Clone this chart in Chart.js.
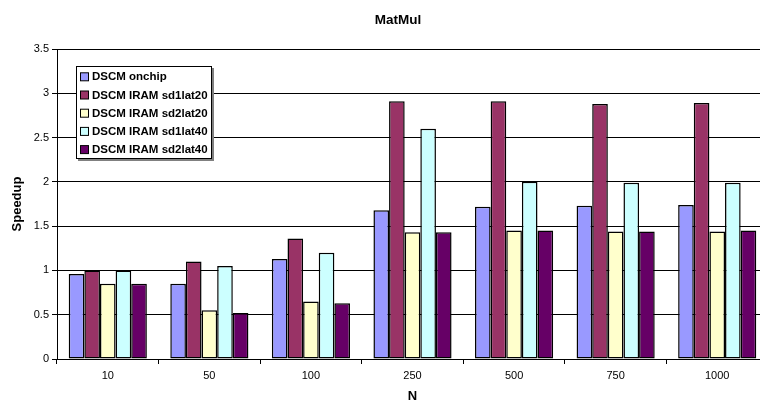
<!DOCTYPE html>
<html>
<head>
<meta charset="utf-8">
<script src="https://cdn.jsdelivr.net/npm/chart.js@4/dist/chart.umd.min.js"></script>
<style>
  html, body { margin: 0; padding: 0; background: #fff; overflow: hidden; }
  #wrap { width: 796px; height: 405px; }
</style>
</head>
<body>
<div id="wrap"><canvas id="chart" width="796" height="405"></canvas></div>
<script>
// N values on the x axis
const categories = ['10', '50', '100', '250', '500', '750', '1000'];

// speedup per configuration
const onchip   = [0.96, 0.85, 1.13, 1.68, 1.72, 1.73, 1.74];
const sd1lat20 = [1.00, 1.10, 1.36, 2.91, 2.91, 2.88, 2.89];
const sd2lat20 = [0.85, 0.55, 0.65, 1.43, 1.45, 1.44, 1.44];
const sd1lat40 = [1.00, 1.05, 1.20, 2.60, 2.00, 1.99, 1.99];
const sd2lat40 = [0.85, 0.52, 0.63, 1.43, 1.45, 1.44, 1.45];

const seriesNames = ['DSCM onchip', 'DSCM IRAM sd1lat20', 'DSCM IRAM sd2lat20', 'DSCM IRAM sd1lat40', 'DSCM IRAM sd2lat40'];
const seriesColors = ['#9999FF', '#993366', '#FFFFCC', '#CCFFFF', '#660066'];

const FONT = "'Liberation Sans', Arial, sans-serif";

// chart title, centred on the whole canvas
const titlePlugin = {
    id: 'matmulTitle',
    afterDraw(chart) {
        const ctx = chart.ctx;
        ctx.save();
        ctx.font = 'bold 13.5px ' + FONT;
        ctx.fillStyle = '#000';
        ctx.textAlign = 'center';
        ctx.textBaseline = 'middle';
        ctx.fillText('MatMul', chart.width / 2, 20);
        ctx.restore();
    }
};

// boxed legend inside the plot area, with a drop shadow
const boxLegend = {
    id: 'boxLegend',
    afterDraw(chart) {
        const ctx = chart.ctx;
        const area = chart.chartArea;
        const x = area.left + 19;
        const y = area.top + 17;
        const w = 136;
        const h = 93;
        const rowH = 18.2;

        ctx.save();
        // shadow
        ctx.fillStyle = '#808080';
        ctx.fillRect(x + 2, y + 2, w, h);
        // box
        ctx.fillStyle = '#fff';
        ctx.fillRect(x, y, w, h);
        ctx.strokeStyle = '#000';
        ctx.lineWidth = 1;
        ctx.strokeRect(x + 0.5, y + 0.5, w - 1, h - 1);

        ctx.font = 'bold 11.5px ' + FONT;
        ctx.textBaseline = 'middle';
        ctx.textAlign = 'left';
        chart.data.datasets.forEach((ds, i) => {
            const cy = y + 10.3 + i * rowH;
            ctx.fillStyle = ds.backgroundColor;
            ctx.fillRect(x + 4.5, cy - 3.5, 8, 8);
            ctx.strokeStyle = '#000';
            ctx.strokeRect(x + 4.5, cy - 3.5, 8, 8);
            ctx.fillStyle = '#000';
            ctx.fillText(ds.label, x + 16, cy + 1);
        });
        ctx.restore();
    }
};

const allValues = [onchip, sd1lat20, sd2lat20, sd1lat40, sd2lat40];

new Chart(document.getElementById('chart'), {
    type: 'bar',
    data: {
        labels: categories,
        datasets: allValues.map((vals, i) => ({
            label: seriesNames[i],
            data: vals,
            backgroundColor: seriesColors[i],
            borderColor: '#000',
            borderWidth: 1.5,
            borderSkipped: false,
            categoryPercentage: 5 / 6.5,
            barPercentage: 1
        }))
    },
    options: {
        responsive: false,
        animation: false,
        devicePixelRatio: 1,
        layout: { padding: { left: 0, right: 28, top: 49, bottom: 0 } },
        plugins: {
            legend: { display: false },
            title: { display: false },
            tooltip: { enabled: false }
        },
        scales: {
            x: {
                offset: true,
                grid: { offset: true, drawOnChartArea: false, color: '#000', tickLength: 5 },
                border: { color: '#000' },
                ticks: { font: { family: FONT, size: 11 }, color: '#000', padding: 5, maxRotation: 0 },
                title: {
                    display: true,
                    text: 'N',
                    color: '#000',
                    font: { family: FONT, size: 13, weight: 'bold' },
                    padding: { top: 0, bottom: 1 }
                },
                afterFit: (scale) => { scale.height = 46; }
            },
            y: {
                min: 0,
                max: 3.5,
                ticks: {
                    stepSize: 0.5,
                    font: { family: FONT, size: 11 },
                    color: '#000',
                    padding: 3,
                    callback: (value) => String(Number(value))
                },
                grid: { color: '#000', tickLength: 5 },
                border: { color: '#000' },
                title: {
                    display: true,
                    text: 'Speedup',
                    color: '#000',
                    font: { family: FONT, size: 13, weight: 'bold' },
                    padding: { top: 10, bottom: 0 }
                },
                afterFit: (scale) => { scale.width = 57; }
            }
        }
    },
    plugins: [titlePlugin, boxLegend]
});
</script>
</body>
</html>
